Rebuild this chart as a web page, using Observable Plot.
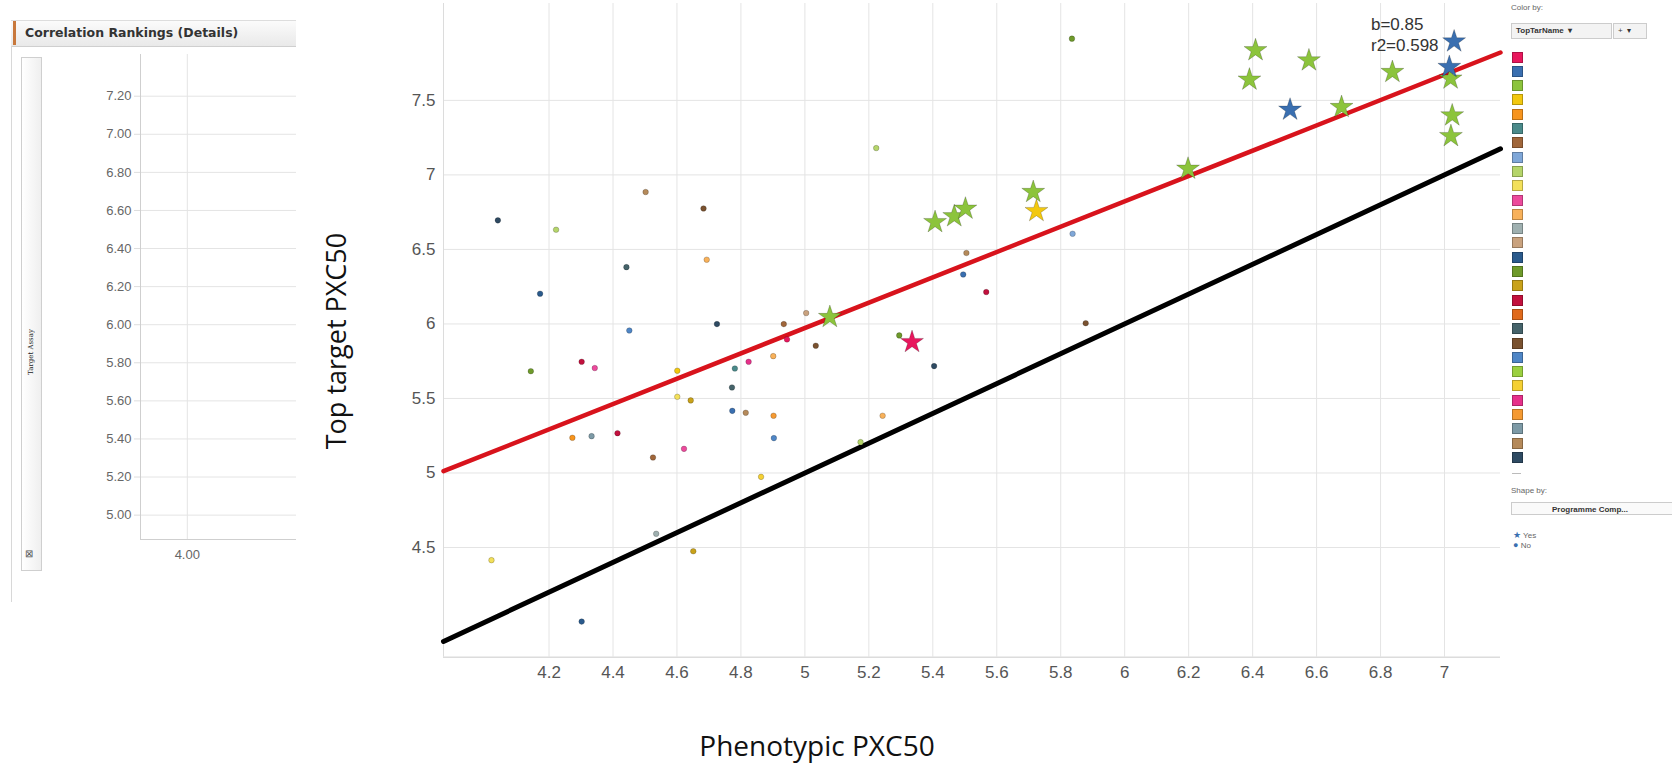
<!DOCTYPE html>
<html><head><meta charset="utf-8">
<script src="https://cdn.jsdelivr.net/npm/d3@7"></script>
<script src="https://cdn.jsdelivr.net/npm/@observablehq/plot@0.6"></script>
<style>
body{margin:0;background:#fff;}
#page{position:relative;width:1672px;height:769px;overflow:hidden;background:#fff;font-family:"Liberation Sans",Arial,sans-serif;}
#page svg{position:absolute;top:0;left:0;}
.abs{position:absolute;white-space:nowrap;}
</style></head><body><div id="page"></div>
<script>
// ---------- data ----------
// TopTarName categories (legend order) and their colours
const targetNames = ["T01","T02","T03","T04","T05","T06","T07","T08","T09","T10","T11","T12","T13","T14","T15","T16","T17","T18","T19","T20","T21","T22","T23","T24","T25","T26","T27","T28","T29"];
const palette = ["#e8175d","#3a6fb0","#8cc43c","#f2c80f","#f7941d","#4a8a8a","#a0663a","#7fa7d8","#b5d56a","#f3e05a","#ec4a9c","#f8b15a","#9fb0b0","#c9a27e","#2a5a8c","#6e9a2a","#c9a21a","#c2103d","#e06a1b","#45636a","#7a5230","#4f86c6","#9bd040","#f5d033","#e6308a","#f59a32","#7d9aa6","#b58a5a","#2e4a62"];

// Programme compound = No (circles)
const dotPheno  = [4.04,4.222,4.502,4.683,4.442,4.693,4.172,4.451,4.725,4.143,4.302,4.343,4.934,5.004,4.944,5.034,4.901,4.824,4.781,4.772,4.601,4.601,4.643,4.773,4.815,4.902,4.273,4.333,4.414,4.903,4.622,4.525,5.174,4.863,4.535,4.651,4.02,4.302,5.223,5.295,5.404,5.243,5.835,5.837,5.505,5.495,5.567,5.878];
const dotTarget = [6.695,6.632,6.885,6.775,6.381,6.431,6.203,5.956,5.999,5.683,5.746,5.704,5.999,6.073,5.896,5.854,5.784,5.746,5.701,5.574,5.686,5.511,5.487,5.417,5.404,5.384,5.236,5.247,5.267,5.234,5.162,5.104,5.207,4.974,4.592,4.475,4.415,4.003,7.18,5.923,5.717,5.384,7.914,6.605,6.476,6.332,6.214,6.005];
const dotTar    = ["T29","T09","T28","T21","T20","T12","T15","T22","T29","T16","T18","T11","T07","T14","T01","T21","T12","T25","T06","T20","T04","T10","T17","T02","T28","T26","T05","T27","T18","T22","T11","T07","T09","T24","T13","T17","T10","T15","T09","T16","T29","T12","T16","T08","T28","T02","T18","T21"];

// Programme compound = Yes (stars)
const starPheno  = [5.078,5.335,5.407,5.467,5.502,5.714,5.724,6.198,6.409,6.39,6.517,6.576,6.678,6.837,7.03,7.019,7.015,7.024,7.02];
const starTarget = [6.046,5.878,6.683,6.722,6.773,6.885,6.757,7.041,7.836,7.639,7.437,7.768,7.455,7.69,7.895,7.646,7.724,7.399,7.26];
const starTar    = ["T03","T01","T03","T03","T03","T03","T04","T03","T03","T03","T02","T03","T03","T03","T02","T03","T02","T03","T03"];

// regression fit
const fitSlope = 0.85, fitIntercept = 1.7225, fitR2 = 0.598;
const fitLabels = ["b=0.85", "r2=0.598"];

// axes
const xDomain = [3.87, 7.175];
const yDomain = [3.764, 8.15];
const xTicks = [4.2,4.4,4.6,4.8,5,5.2,5.4,5.6,5.8,6,6.2,6.4,6.6,6.8,7];
const yTicks = [4.5,5,5.5,6,6.5,7,7.5];

// left "Correlation Rankings (Details)" panel axes
const leftYTicks = [5.0,5.2,5.4,5.6,5.8,6.0,6.2,6.4,6.6,6.8,7.0,7.2];
const leftXTicks = [4.0];
const leftXDomain = [3.85, 4.35];
const leftYDomain = [4.872, 7.419];

// ---------- build ----------
const page = document.getElementById("page");
const dots = dotPheno.map((x, i) => ({x, y: dotTarget[i], tar: dotTar[i]}));
const stars = starPheno.map((x, i) => ({x, y: starTarget[i], tar: starTar[i]}));
const fitLine = xDomain.map(x => ({x, y: fitIntercept + fitSlope * x}));
const idLine = xDomain.map(x => ({x, y: x}));
const fitText = fitLabels.map((t, i) => ({t, x: 6.77, y: 8.01 - i * 0.141}));
const plain = d => String(+d.toFixed(2));

const main = Plot.plot({
  width: 1672, height: 769,
  marginLeft: 443, marginRight: 172, marginTop: 3, marginBottom: 112.3,
  style: {background: "transparent", fontFamily: "'Liberation Sans', Arial, sans-serif", fontSize: "17px", color: "#555", overflow: "visible"},
  x: {domain: xDomain},
  y: {domain: yDomain},
  color: {domain: targetNames, range: palette},
  marks: [
    Plot.gridX(xTicks, {stroke: "#e4e4e4", strokeOpacity: 1}),
    Plot.gridY(yTicks, {stroke: "#e4e4e4", strokeOpacity: 1}),
    Plot.ruleX([xDomain[0]], {stroke: "#dcdcdc"}),
    Plot.ruleY([yDomain[0]], {stroke: "#dcdcdc", strokeWidth: 1.5}),
    Plot.axisX(xTicks, {tickSize: 0, tickPadding: 9, label: null, tickFormat: plain, fill: "#555", fontSize: 17}),
    Plot.axisY(yTicks, {tickSize: 0, tickPadding: 8, label: null, tickFormat: plain, fill: "#555", fontSize: 17}),
    Plot.line(idLine, {x: "x", y: "y", stroke: "#000", strokeWidth: 5}),
    Plot.line(fitLine, {x: "x", y: "y", stroke: "#d8131c", strokeWidth: 4.5}),
    Plot.dot(dots, {x: "x", y: "y", fill: "tar", r: 2.8, stroke: "#000", strokeOpacity: 0.25, strokeWidth: 0.8}),
    Plot.dot(stars, {x: "x", y: "y", fill: "tar", symbol: "star", r: 7.2, stroke: "#000", strokeOpacity: 0.2, strokeWidth: 1}),
    Plot.text(fitText, {x: "x", y: "y", text: "t", textAnchor: "start", fill: "#333", fontSize: 17})
  ]
});
page.appendChild(main);

// left mini panel chart
const mini = Plot.plot({
  width: 300, height: 600,
  marginLeft: 140, marginRight: 4, marginTop: 54, marginBottom: 61,
  style: {background: "transparent", fontFamily: "'Liberation Sans', Arial, sans-serif", fontSize: "13px", color: "#666"},
  x: {domain: leftXDomain},
  y: {domain: leftYDomain},
  marks: [
    Plot.gridX(leftXTicks, {stroke: "#e4e4e4", strokeOpacity: 1}),
    Plot.gridY(leftYTicks, {stroke: "#e4e4e4", strokeOpacity: 1}),
    Plot.ruleX([leftXDomain[0]], {stroke: "#cfcfcf"}),
    Plot.ruleY([leftYDomain[0]], {stroke: "#cfcfcf"}),
    Plot.axisY(leftYTicks, {tickSize: 6, tickPadding: 3, label: null, tickFormat: d3.format(".2f"), stroke: "#ddd", fill: "#666", fontSize: 13}),
    Plot.axisX(leftXTicks, {tickSize: 0, tickPadding: 10, label: null, tickFormat: d3.format(".2f"), fill: "#666", fontSize: 13})
  ]
});
page.appendChild(mini);

function addDiv(html, css) {
  const d = document.createElement("div");
  d.className = "abs";
  d.innerHTML = html;
  Object.assign(d.style, css);
  page.appendChild(d);
  return d;
}

// left panel decorations
addDiv("", {left: "11px", top: "20px", width: "285px", height: "25px", background: "linear-gradient(#fbfbfb,#e9e9e9)", borderTop: "1px solid #ddd", borderBottom: "1px solid #cfcfcf"});
addDiv("", {left: "13px", top: "21px", width: "3px", height: "24px", background: "#c8783c"});
addDiv("Correlation Rankings (Details)", {left: "25px", top: "25px", fontFamily: "'DejaVu Sans', Verdana, sans-serif", fontWeight: "bold", fontSize: "12.5px", color: "#333"});
addDiv("", {left: "11px", top: "46px", width: "1px", height: "556px", background: "#d8d8d8"});
addDiv("", {left: "21px", top: "57px", width: "19px", height: "512px", border: "1px solid #cfcfcf", background: "linear-gradient(90deg,#ffffff,#efefef)"});
addDiv("Target Assay", {left: "31px", top: "352px", transform: "translate(-50%,-50%) rotate(-90deg)", fontFamily: "'DejaVu Serif', serif", fontSize: "7px", color: "#222"});
addDiv("&#8864;", {left: "25px", top: "548px", fontSize: "10px", color: "#555"});

// axis titles
addDiv("Top target PXC50", {left: "335px", top: "341px", transform: "translate(-50%,-50%) rotate(-90deg)", fontFamily: "'Open Sans', sans-serif", fontSize: "27px", color: "#111"});
addDiv("Phenotypic PXC50", {left: "817px", top: "731px", transform: "translateX(-50%)", fontFamily: "'Open Sans', sans-serif", fontSize: "28px", lineHeight: "29px", color: "#111"});

// right legend
const lg = {fontFamily: "'Liberation Sans', Arial, sans-serif", fontSize: "8px", color: "#666"};
addDiv("Color by:", Object.assign({left: "1511px", top: "3px"}, lg));
addDiv("TopTarName&nbsp;&nbsp;&#9662;", {left: "1511px", top: "23px", width: "95px", height: "14px", lineHeight: "14px", paddingLeft: "4px", border: "1px solid #ccc", background: "#f3f3f3", color: "#333", fontWeight: "bold", fontFamily: lg.fontFamily, fontSize: "8px"});
addDiv("+&nbsp;&nbsp;&#9662;", {left: "1613px", top: "23px", width: "28px", height: "14px", lineHeight: "14px", paddingLeft: "4px", border: "1px solid #ccc", background: "#f3f3f3", color: "#333", fontFamily: lg.fontFamily, fontSize: "8px"});
palette.forEach((c, i) => {
  addDiv("", {left: "1512px", top: (51.5 + i * 14.3) + "px", width: "9px", height: "9px", background: c, border: "0.5px solid rgba(0,0,0,0.25)"});
});
addDiv("", {left: "1512px", top: "473px", width: "9px", height: "1px", background: "#bbb"});
addDiv("Shape by:", Object.assign({left: "1511px", top: "486px"}, lg));
addDiv("Programme Comp...", {left: "1511px", top: "502px", width: "170px", height: "13px", lineHeight: "13px", border: "1px solid #ccc", background: "#fafafa", color: "#333", fontWeight: "bold", fontFamily: lg.fontFamily, fontSize: "8px", paddingLeft: "40px", boxSizing: "border-box"});
addDiv("<span style='color:#3a6fb0;font-size:9px'>&#9733;</span> Yes", Object.assign({left: "1513px", top: "530px"}, lg));
addDiv("<span style='color:#3a6fb0;font-size:9px'>&#9679;</span> No", Object.assign({left: "1513px", top: "540px"}, lg));
</script></body></html>
